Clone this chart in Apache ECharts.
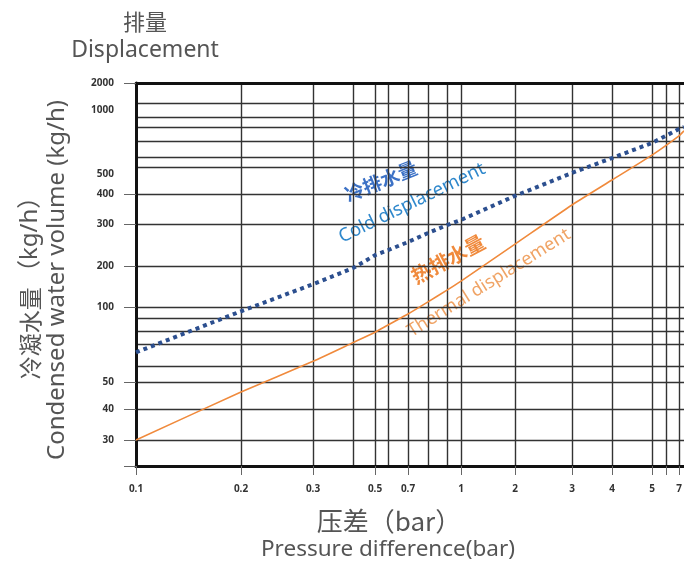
<!DOCTYPE html>
<html>
<head>
<meta charset="utf-8">
<script src="https://cdn.jsdelivr.net/npm/echarts@6/dist/echarts.min.js"></script>
<style>
  html, body { margin: 0; padding: 0; background: #fff; }
  #chart { width: 684px; height: 564px; }
</style>
</head>
<body>
<div id="chart"></div>
<script>
// pressure difference (bar) and displacement (kg/h)
const pressure = [0.1, 0.2, 0.3, 0.4, 0.5, 0.6, 0.7, 0.8, 0.9, 1, 2, 3, 4, 5, 7, 7.43]
const coldFlow = [66, 96, 147, 193, 222, 233, 252, 275, 297, 312, 393, 476, 589, 687, 785, 800]
const thermalFlow = [30, 46, 62, 71, 79, 84.5, 93.5, 109, 133, 155, 247, 360, 449, 611, 735, 771]

// tick labels / grid lines
const xLabels = [0.1, 0.2, 0.3, 0.5, 0.7, 1, 2, 3, 4, 5, 7]
const xTicks = [0.1, 0.2, 0.3, 0.5, 0.7, 1, 2, 3, 4, 5, 6, 7]
const xGrid = [0.2, 0.3, 0.4, 0.5, 0.6, 0.7, 0.8, 0.9, 1, 2, 3, 4, 5, 6, 7]
const yLabels = [30, 40, 50, 100, 200, 300, 400, 500, 1000, 2000]
const yTicks = [24, 30, 40, 50, 100, 200, 300, 400, 2000]
const yGrid = [30, 40, 50, 60, 70, 80, 90, 100, 200, 300, 400, 500, 600, 700, 800, 900, 1000]

// the printed chart's axes are not a true log scale: piecewise-log between grid values
const xScaleVals = [0.1, 0.2, 0.3, 0.4, 0.5, 0.6, 0.7, 0.8, 0.9, 1, 2, 3, 4, 5, 6, 7, 7.43]
const xScalePos = [0, 105, 177, 217, 239, 252, 272, 292, 311, 325, 379, 436, 476, 516, 530, 543, 548]
const yScaleVals = [24, 30, 40, 50, 60, 70, 80, 90, 100, 200, 300, 400, 500, 600, 700, 800, 900, 1000, 2000]
const yScalePos = [0, 26, 57, 84, 100, 122, 135, 148, 159, 200, 242, 272, 299, 309, 325, 339, 349, 363, 383]

function piecewise(v, vals, pos) {
  let i = 0
  while (i < vals.length - 2 && v > vals[i + 1]) i++
  const t = (Math.log(v) - Math.log(vals[i])) / (Math.log(vals[i + 1]) - Math.log(vals[i]))
  return pos[i] + t * (pos[i + 1] - pos[i])
}
const toX = v => piecewise(v, xScaleVals, xScalePos)
const toY = v => piecewise(v, yScaleVals, yScalePos)

function nearest(list, fn, val) {
  let best = list[0], d = Infinity
  list.forEach(l => {
    const dd = Math.abs(fn(l) - val)
    if (dd < d) { d = dd; best = l }
  })
  return best
}

const cjk = "'Noto Sans CJK SC', sans-serif"
const latin = "'Noto Sans', 'Noto Sans CJK SC', sans-serif"
const gridColor = '#333'
const titleColor = '#555'

const chart = echarts.init(document.getElementById('chart'))

const option = {
  backgroundColor: '#fff',
  animation: false,
  textStyle: { fontFamily: latin },
  grid: {
    left: 136, right: 0, top: 83, bottom: 98,
    containLabel: false,
    outerBoundsMode: 'none'
  },
  xAxis: [
    {
      type: 'value', min: 0, max: 548, position: 'bottom',
      axisLine: { show: true, onZero: false, lineStyle: { color: '#111', width: 3 } },
      axisTick: { show: true, customValues: xTicks.map(toX), length: 9, lineStyle: { color: '#666', width: 1 } },
      axisLabel: {
        customValues: xLabels.map(toX),
        formatter: v => String(nearest(xLabels, toX, v)),
        color: '#333', fontSize: 10, fontWeight: 'bold', margin: 18, fontFamily: latin
      },
      splitLine: { show: false }
    },
    {
      type: 'value', min: 0, max: 548, position: 'top',
      axisLine: { show: true, onZero: false, lineStyle: { color: '#111', width: 3 } },
      axisTick: { show: false, customValues: xGrid.map(toX) },
      axisLabel: { show: false },
      splitLine: { show: true, lineStyle: { color: gridColor, width: 1.4 } }
    }
  ],
  yAxis: [
    {
      type: 'value', min: 0, max: 383, position: 'left',
      axisLine: { show: true, onZero: false, lineStyle: { color: '#111', width: 3 } },
      axisTick: { show: true, customValues: yTicks.map(toY), length: 12, lineStyle: { color: '#666', width: 1 } },
      axisLabel: {
        customValues: yLabels.map(toY),
        formatter: v => {
          const l = nearest(yLabels, toY, v)
          // 1000 and 500 are printed a little below their grid line
          return (l === 1000 || l === 500) ? '{low|' + l + '}' : String(l)
        },
        rich: { low: { padding: [14, 0, 0, 0], fontSize: 10, fontWeight: 'bold', color: '#333', fontFamily: latin } },
        color: '#333', fontSize: 10, fontWeight: 'bold', margin: 22, fontFamily: latin
      },
      splitLine: { show: false }
    },
    {
      type: 'value', min: 0, max: 383, position: 'right',
      axisLine: { show: false, onZero: false },
      axisTick: { show: false, customValues: yGrid.map(toY) },
      axisLabel: { show: false },
      splitLine: { show: true, lineStyle: { color: gridColor, width: 1.4 } }
    }
  ],
  series: [
    {
      name: 'Thermal displacement',
      type: 'line',
      xAxisIndex: 0, yAxisIndex: 0,
      data: pressure.map((p, i) => [toX(p), toY(thermalFlow[i])]),
      showSymbol: false,
      smooth: 0.2,
      lineStyle: { color: '#f08a3c', width: 1.6 },
      z: 5
    },
    {
      name: 'Cold displacement',
      type: 'line',
      xAxisIndex: 0, yAxisIndex: 0,
      data: pressure.map((p, i) => [toX(p), toY(coldFlow[i])]),
      showSymbol: false,
      lineStyle: { color: '#2c4f8f', width: 4, type: [4, 4], cap: 'butt' },
      z: 6
    }
  ],
  graphic: [
    { type: 'text', x: 145, y: 22, style: { text: '排量', font: '22px ' + cjk, fill: titleColor, align: 'center', verticalAlign: 'middle' } },
    { type: 'text', x: 145, y: 50, style: { text: 'Displacement', font: '23px ' + latin, fill: titleColor, align: 'center', verticalAlign: 'middle' } },
    {
      type: 'text', x: 30, y: 282, rotation: Math.PI / 2,
      style: {
        text: '{c|冷凝水量} {l|（kg/h）}',
        rich: {
          c: { font: '23px ' + cjk, fill: titleColor },
          l: { font: '24px ' + latin, fill: titleColor }
        },
        fill: titleColor, align: 'center', verticalAlign: 'middle'
      }
    },
    { type: 'text', x: 57, y: 280, rotation: Math.PI / 2, style: { text: 'Condensed water volume (kg/h)', font: '24px ' + latin, fill: titleColor, align: 'center', verticalAlign: 'middle' } },
    { type: 'text', x: 389, y: 521, style: { text: '压差（bar）', font: '26px ' + cjk, fill: titleColor, align: 'center', verticalAlign: 'middle' } },
    { type: 'text', x: 388, y: 550, style: { text: 'Pressure difference(bar)', font: '22.5px ' + latin, fill: titleColor, align: 'center', verticalAlign: 'middle' } },
    { type: 'text', x: 381, y: 181, rotation: 22 * Math.PI / 180, style: { text: '冷排水量', font: 'bold 19px ' + cjk, fill: '#3d72c6', align: 'center', verticalAlign: 'middle' } },
    { type: 'text', x: 412, y: 203, rotation: 26 * Math.PI / 180, style: { text: 'Cold displacement', font: '18.5px ' + latin, fill: '#2f88cc', align: 'center', verticalAlign: 'middle' } },
    { type: 'text', x: 448, y: 259, rotation: 28 * Math.PI / 180, style: { text: '热排水量', font: 'bold 20px ' + cjk, fill: '#f08a3c', align: 'center', verticalAlign: 'middle' } },
    { type: 'text', x: 489, y: 283, rotation: 32 * Math.PI / 180, style: { text: 'Thermal displacement', font: '18px ' + latin, fill: '#f0a466', align: 'center', verticalAlign: 'middle' } }
  ]
}

chart.setOption(option)
</script>
</body>
</html>
